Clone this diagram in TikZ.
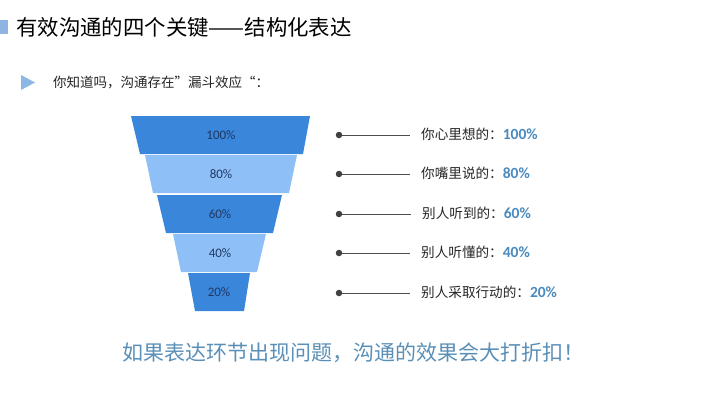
\documentclass[tikz,border=0pt]{standalone}
\usepackage{fontspec}
\setmainfont{Noto Sans CJK SC}
\newfontfamily\numfont{Carlito}
\definecolor{segdark}{HTML}{3A86DB}
\definecolor{seglight}{HTML}{8EC0F7}
\definecolor{pctnavy}{HTML}{1F3864}
\definecolor{valblue}{HTML}{4A8BBF}
\definecolor{noteblue}{HTML}{5A90B8}
\definecolor{barblue}{HTML}{8DB4E2}
\definecolor{tipblue}{HTML}{8DB8E6}
\begin{document}
\begin{tikzpicture}[x=1pt, y=-1pt, every node/.style={inner sep=0pt},
  pct/.style={font=\numfont\fontsize{13}{15}\selectfont, text=pctnavy},
  lab/.style={anchor=west, font=\fontsize{13.6}{16}\selectfont, text=black!85},
  dot/.style={circle, fill=black!75, minimum size=6.5pt},
  lead/.style={draw=black!70, line width=0.8pt, shorten >=11pt}]
\useasboundingbox (0,0) rectangle (720,405);
\fill[white] (0,0) rectangle (720,405);
% Heading
\fill[barblue] (0,20) rectangle (8,34);
\node[anchor=west, font=\fontsize{21.4}{25}\selectfont] (title) at (16,27) {有效沟通的四个关键——结构化表达};
\fill[tipblue] (21,75) -- (35,82.5) -- (21,90) -- cycle;
\node[anchor=west, font=\fontsize{13.5}{16}\selectfont, text=black!85] (intro) at (53,82) {你知道吗，沟通存在”漏斗效应“：};
% Funnel layers
\fill[segdark] (131,116) -- (310,116) -- (303,154) -- (140,154) -- cycle;
\node[pct] (p1) at (221,135) {100\%};
\fill[seglight] (145,155) -- (297,155) -- (289,193) -- (153,193) -- cycle;
\node[pct] (p2) at (221,174) {80\%};
\fill[segdark] (157,195) -- (282,195) -- (273,233) -- (166,233) -- cycle;
\node[pct] (p3) at (220,214) {60\%};
\fill[seglight] (173,234) -- (266,234) -- (257,272) -- (181,272) -- cycle;
\node[pct] (p4) at (220,253) {40\%};
\fill[segdark] (188,273) -- (250,273) -- (244,311) -- (195,311) -- cycle;
\node[pct] (p5) at (219,292) {20\%};
% Legend on the right
\node[dot] (d1) at (339,135) {};
\node[lab] (l1) at (421,134) {你心里想的：{\numfont\bfseries\fontsize{15.5}{17}\selectfont\color{valblue}100\%}};
\node[dot] (d2) at (339,174) {};
\node[lab] (l2) at (421,173) {你嘴里说的：{\numfont\bfseries\fontsize{15.5}{17}\selectfont\color{valblue}80\%}};
\node[dot] (d3) at (339,214) {};
\node[lab] (l3) at (422,213) {别人听到的：{\numfont\bfseries\fontsize{15.5}{17}\selectfont\color{valblue}60\%}};
\node[dot] (d4) at (339,253) {};
\node[lab] (l4) at (421,252) {别人听懂的：{\numfont\bfseries\fontsize{15.5}{17}\selectfont\color{valblue}40\%}};
\node[dot] (d5) at (339,293) {};
\node[lab] (l5) at (421,292) {别人采取行动的：{\numfont\bfseries\fontsize{15.5}{17}\selectfont\color{valblue}20\%}};
\draw[lead] (d1) -- (d1 -| l1.west);
\draw[lead] (d2) -- (d2 -| l2.west);
\draw[lead] (d3) -- (d3 -| l3.west);
\draw[lead] (d4) -- (d4 -| l4.west);
\draw[lead] (d5) -- (d5 -| l5.west);
% Closing remark
\node[font=\fontsize{21}{25}\selectfont, text=noteblue] (note) at (353,353) {如果表达环节出现问题，沟通的效果会大打折扣！};
\end{tikzpicture}
\end{document}
